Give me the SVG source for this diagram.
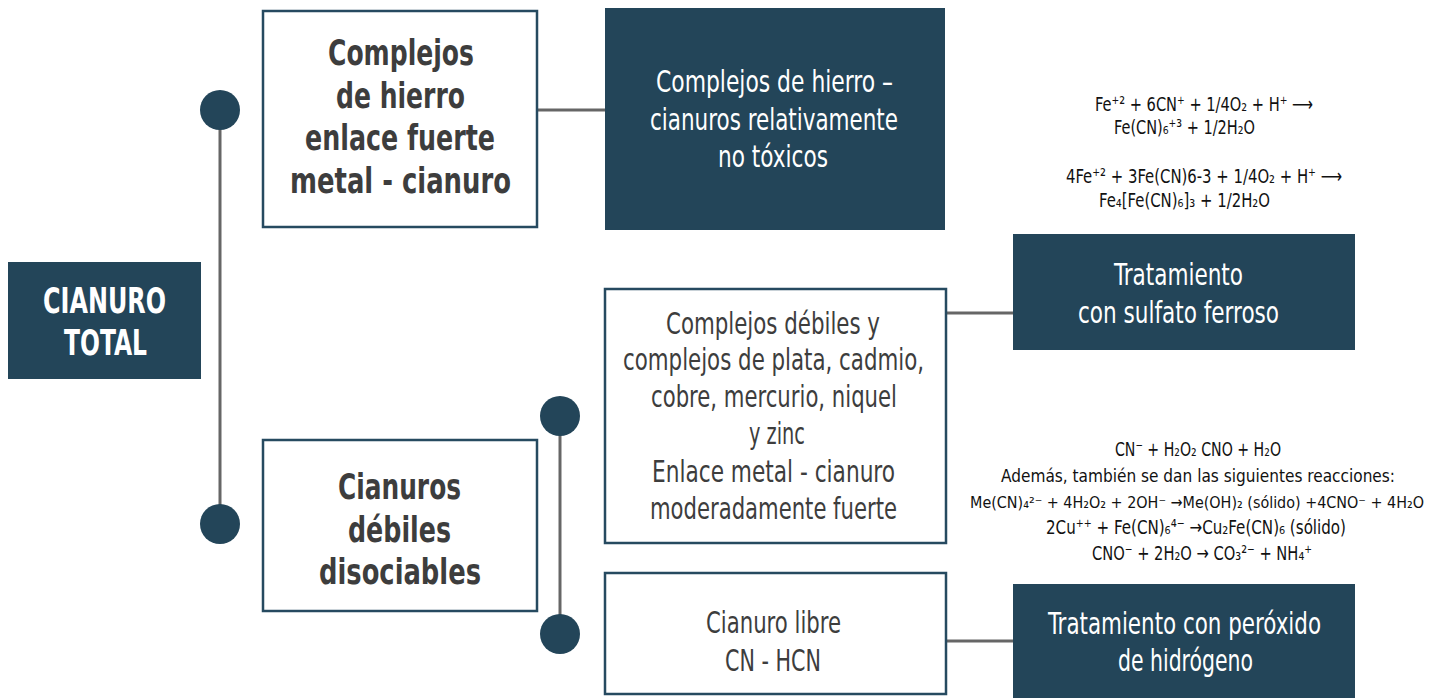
<svg xmlns="http://www.w3.org/2000/svg" width="1444" height="698" viewBox="0 0 1444 698">
<style>
.dark{fill:#234559}
.outline{fill:#ffffff;stroke:#264a60;stroke-width:2.5}
.conn{stroke:#666666;stroke-width:3;fill:none}
.dot{fill:#234559}
text{font-family:"Liberation Sans Narrow","DejaVu Sans Condensed","Liberation Sans",Arial,sans-serif}
.tb{font-size:36px;font-weight:bold;fill:#3d3d3d}
.tw{font-size:36px;font-weight:bold;fill:#ffffff}
.rw{font-size:31px;fill:#ffffff}
.rg{font-size:31px;fill:#3d3d3d}
.f{font-size:20px;fill:#111111}
.fs{font-size:18px;fill:#111111}
.fx{font-size:16px;fill:#111111}
</style>
<rect width="1444" height="698" fill="#ffffff"/>
<g id="connectors">
<line class="conn" x1="220" y1="110" x2="220" y2="524"/>
<line class="conn" x1="560" y1="416" x2="560" y2="634"/>
<line class="conn" x1="537" y1="110" x2="605" y2="110"/>
<line class="conn" x1="946" y1="313" x2="1013" y2="313"/>
<line class="conn" x1="946" y1="641" x2="1013" y2="641"/>
<circle class="dot" cx="220" cy="110" r="20"/>
<circle class="dot" cx="220" cy="524" r="20"/>
<circle class="dot" cx="560" cy="416" r="20"/>
<circle class="dot" cx="560" cy="634" r="20"/>
</g>
<g id="cianuro-total">
<rect class="dark" x="8" y="262" width="193" height="117"/>
<text class="tw" x="43" y="313" textLength="123" lengthAdjust="spacingAndGlyphs">CIANURO</text>
<text class="tw" x="64" y="355" textLength="83" lengthAdjust="spacingAndGlyphs">TOTAL</text>
</g>
<g id="complejos-hierro">
<rect class="outline" x="263" y="11" width="274" height="216"/>
<text class="tb" x="328" y="65" textLength="146" lengthAdjust="spacingAndGlyphs">Complejos</text>
<text class="tb" x="336" y="108" textLength="129" lengthAdjust="spacingAndGlyphs">de hierro</text>
<text class="tb" x="305" y="150" textLength="190" lengthAdjust="spacingAndGlyphs">enlace fuerte</text>
<text class="tb" x="290" y="193" textLength="221" lengthAdjust="spacingAndGlyphs">metal - cianuro</text>
</g>
<g id="no-toxicos">
<rect class="dark" x="605" y="8" width="340" height="222"/>
<text class="rw" x="656" y="92" textLength="237" lengthAdjust="spacingAndGlyphs">Complejos de hierro –</text>
<text class="rw" x="650" y="130" textLength="248" lengthAdjust="spacingAndGlyphs">cianuros relativamente</text>
<text class="rw" x="718" y="167" textLength="110" lengthAdjust="spacingAndGlyphs">no tóxicos</text>
</g>
<g id="formulas-hierro">
<text class="f" x="1095" y="111" textLength="218" lengthAdjust="spacingAndGlyphs">Fe⁺² + 6CN⁺ + 1/4O₂ + H⁺ ⟶</text>
<text class="f" x="1114" y="134" textLength="141" lengthAdjust="spacingAndGlyphs">Fe(CN)₆⁺³ + 1/2H₂O</text>
<text class="f" x="1066" y="183" textLength="276" lengthAdjust="spacingAndGlyphs">4Fe⁺² + 3Fe(CN)6-3 + 1/4O₂ + H⁺ ⟶</text>
<text class="f" x="1099" y="207" textLength="171" lengthAdjust="spacingAndGlyphs">Fe₄[Fe(CN)₆]₃ + 1/2H₂O</text>
</g>
<g id="sulfato-ferroso">
<rect class="dark" x="1013" y="234" width="342" height="116"/>
<text class="rw" x="1114" y="285" textLength="129" lengthAdjust="spacingAndGlyphs">Tratamiento</text>
<text class="rw" x="1078" y="323" textLength="201" lengthAdjust="spacingAndGlyphs">con sulfato ferroso</text>
</g>
<g id="complejos-debiles">
<rect class="outline" x="605" y="289" width="341" height="254"/>
<text class="rg" x="666" y="334" textLength="214" lengthAdjust="spacingAndGlyphs">Complejos débiles y</text>
<text class="rg" x="623" y="370" textLength="301" lengthAdjust="spacingAndGlyphs">complejos de plata, cadmio,</text>
<text class="rg" x="651" y="407" textLength="246" lengthAdjust="spacingAndGlyphs">cobre, mercurio, niquel</text>
<text class="rg" x="749" y="444" textLength="56" lengthAdjust="spacingAndGlyphs">y zinc</text>
<text class="rg" x="652" y="482" textLength="243" lengthAdjust="spacingAndGlyphs">Enlace metal - cianuro</text>
<text class="rg" x="650" y="519" textLength="247" lengthAdjust="spacingAndGlyphs">moderadamente fuerte</text>
</g>
<g id="cianuros-debiles">
<rect class="outline" x="263" y="440" width="274" height="171"/>
<text class="tb" x="338" y="499" textLength="123" lengthAdjust="spacingAndGlyphs">Cianuros</text>
<text class="tb" x="348" y="542" textLength="103" lengthAdjust="spacingAndGlyphs">débiles</text>
<text class="tb" x="319" y="584" textLength="162" lengthAdjust="spacingAndGlyphs">disociables</text>
</g>
<g id="cianuro-libre">
<rect class="outline" x="605" y="573" width="341" height="121"/>
<text class="rg" x="706" y="633" textLength="135" lengthAdjust="spacingAndGlyphs">Cianuro libre</text>
<text class="rg" x="725" y="671" textLength="96" lengthAdjust="spacingAndGlyphs">CN - HCN</text>
</g>
<g id="formulas-peroxido">
<text class="f" x="1115" y="456" textLength="166" lengthAdjust="spacingAndGlyphs">CN⁻ + H₂O₂  CNO + H₂O</text>
<text class="fs" x="1001" y="482" textLength="394" lengthAdjust="spacingAndGlyphs">Además, también se dan las siguientes reacciones:</text>
<text class="fx" x="970" y="508" textLength="454" lengthAdjust="spacingAndGlyphs">Me(CN)₄²⁻ + 4H₂O₂ + 2OH⁻ →Me(OH)₂ (sólido) +4CNO⁻ + 4H₂O</text>
<text class="f" x="1046" y="534" textLength="300" lengthAdjust="spacingAndGlyphs">2Cu⁺⁺ + Fe(CN)₆⁴⁻ →Cu₂Fe(CN)₆ (sólido)</text>
<text class="f" x="1092" y="560" textLength="220" lengthAdjust="spacingAndGlyphs">CNO⁻ + 2H₂O → CO₃²⁻ + NH₄⁺</text>
</g>
<g id="peroxido">
<rect class="dark" x="1013" y="584" width="342" height="114"/>
<text class="rw" x="1048" y="634" textLength="273" lengthAdjust="spacingAndGlyphs">Tratamiento con peróxido</text>
<text class="rw" x="1118" y="671" textLength="135" lengthAdjust="spacingAndGlyphs">de hidrógeno</text>
</g>
</svg>
